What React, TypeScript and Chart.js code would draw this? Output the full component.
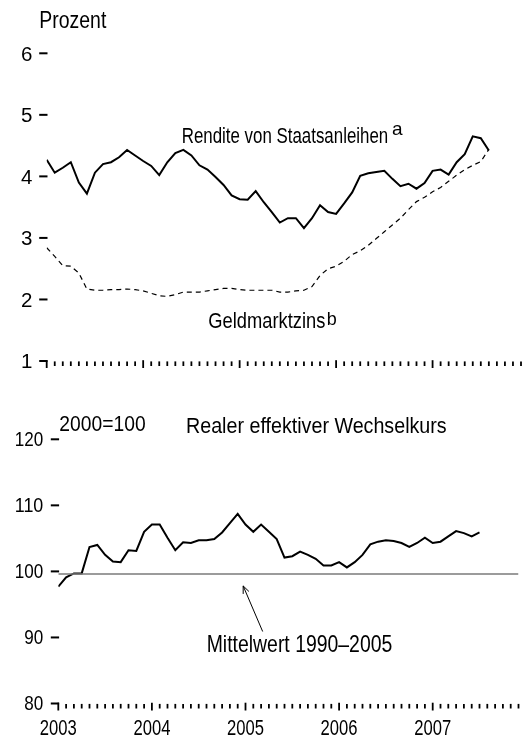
import React, { useEffect, useRef } from 'react';
import { Chart, registerables } from 'chart.js';

Chart.register(...registerables);

// Monthly data, index 0 = January 2003
const bondYield = [
  4.27, 4.06, 4.14, 4.23, 3.9, 3.72, 4.06, 4.2, 4.23, 4.31, 4.43, 4.34,
  4.25, 4.17, 4.02, 4.23, 4.38, 4.43, 4.34, 4.18, 4.11, 3.99, 3.86, 3.69,
  3.63, 3.62, 3.76, 3.58, 3.42, 3.25, 3.32, 3.32, 3.16, 3.32, 3.53, 3.42,
  3.39, 3.56, 3.74, 4.01, 4.05, 4.07, 4.09, 3.96, 3.84, 3.88, 3.8, 3.89,
  4.09, 4.11, 4.03, 4.23, 4.36, 4.65, 4.62, 4.42,
];
const moneyMarketRate = [
  2.84, 2.7, 2.55, 2.54, 2.43, 2.17, 2.15, 2.15, 2.16, 2.16, 2.17, 2.16,
  2.14, 2.1, 2.06, 2.05, 2.08, 2.12, 2.12, 2.12, 2.14, 2.16, 2.18, 2.18,
  2.16, 2.15, 2.15, 2.15, 2.15, 2.12, 2.12, 2.14, 2.15, 2.21, 2.39, 2.5,
  2.54, 2.62, 2.73, 2.79, 2.88, 2.99, 3.1, 3.21, 3.32, 3.46, 3.59, 3.66,
  3.75, 3.82, 3.92, 4.02, 4.11, 4.18, 4.24, 4.44,
];
const realExchangeRate = [
  97.7, 99.1, 99.7, 99.7, 103.7, 104.0, 102.5, 101.5, 101.4, 103.2, 103.1, 106.0,
  107.1, 107.1, 105.1, 103.2, 104.4, 104.3, 104.7, 104.7, 104.9, 105.9, 107.3, 108.7,
  107.1, 106.0, 107.1, 106.0, 104.9, 102.1, 102.3, 103.0, 102.5, 101.9, 100.9, 100.9,
  101.4, 100.6, 101.4, 102.5, 104.1, 104.5, 104.7, 104.6, 104.3, 103.7, 104.3, 105.1,
  104.3, 104.5, 105.3, 106.1, 105.8, 105.3, 105.9,
];
const meanLevel = 99.6; // Mittelwert 1990–2005
const yearLabels = ['2003', '2004', '2005', '2006', '2007'];
const monthCount = 60; // Jan 2003 .. Dec 2007
const topYTicks = [1, 2, 3, 4, 5, 6];
const bottomYTicks = [80, 90, 100, 110, 120];
// arrow annotation in data space: [month, value]
const arrowTip = [23.7, 97.8];
const arrowTail = [26.2, 90.9];

const FONT = '"Liberation Sans", Arial, sans-serif';

function text(ctx: CanvasRenderingContext2D, s: string, x: number, y: number, size: number, maxW?: number, align: CanvasTextAlign = 'left') {
  ctx.save();
  ctx.font = `${size}px ${FONT}`;
  ctx.fillStyle = '#000';
  ctx.textAlign = align;
  ctx.textBaseline = 'alphabetic';
  if (maxW) ctx.fillText(s, x, y, maxW);
  else ctx.fillText(s, x, y);
  ctx.restore();
}

function drawAxes(chart: any, yTicks: number[], opt: { labelSize: number; labelMaxW: (s: string) => number | undefined; baseOff: number; labelGap: number }) {
  const { ctx, chartArea, scales } = chart;
  const xs = scales.x;
  const ys = scales.y;
  const left = chartArea.left;
  const bottom = chartArea.bottom;
  ctx.save();
  ctx.strokeStyle = '#000';
  // x ticks (months)
  ctx.lineWidth = 1.8;
  for (let i = 0; i < monthCount; i++) {
    const px = xs.getPixelForValue(i);
    const major = i % 12 === 0;
    ctx.beginPath();
    ctx.moveTo(px, bottom + (major ? -0.8 : 0.4));
    ctx.lineTo(px, bottom + (major ? 7 : 5));
    ctx.stroke();
  }
  // y ticks (dashes)
  ctx.lineWidth = 2;
  yTicks.forEach((v) => {
    const py = ys.getPixelForValue(v);
    ctx.beginPath();
    ctx.moveTo(left - 7.5, py);
    ctx.lineTo(left + 0.8, py);
    ctx.stroke();
    const s = String(v);
    text(ctx, s, left - opt.labelGap, py + opt.baseOff, opt.labelSize, opt.labelMaxW(s), 'right');
  });
  ctx.restore();
}

const topDecor = {
  id: 'topDecor',
  afterDraw(chart: any) {
    const ctx = chart.ctx;
    drawAxes(chart, topYTicks, { labelSize: 20.5, labelMaxW: () => undefined, baseOff: 7.3, labelGap: 14.4 });
    text(ctx, 'Prozent', 39.3, 28.3, 23, 67);
    text(ctx, 'Rendite von Staatsanleihen', 181.7, 143.3, 22.5, 206.5);
    text(ctx, 'a', 392, 135, 19);
    text(ctx, 'Geldmarktzins', 208.3, 328.3, 22.5, 117);
    text(ctx, 'b', 326.7, 325, 18);
  },
};

const bottomDecor = {
  id: 'bottomDecor',
  afterDraw(chart: any) {
    const { ctx, scales } = chart;
    drawAxes(chart, bottomYTicks, { labelSize: 21, labelMaxW: (s) => (s.length === 3 ? 28.5 : 19), baseOff: 6.6, labelGap: 15 });
    yearLabels.forEach((lab, k) => {
      const px = scales.x.getPixelForValue(k * 12);
      text(ctx, lab, px, 355, 22, 37, 'center');
    });
    text(ctx, '2000=100', 59.3, 50.7, 22, 86.3);
    text(ctx, 'Realer effektiver Wechselkurs', 186, 52.7, 21.5, 260.7);
    text(ctx, 'Mittelwert 1990–2005', 206.7, 272.3, 24, 185.6);
    // arrow
    const tx = scales.x.getPixelForValue(arrowTip[0]);
    const ty = scales.y.getPixelForValue(arrowTip[1]);
    const sx = scales.x.getPixelForValue(arrowTail[0]);
    const sy = scales.y.getPixelForValue(arrowTail[1]);
    const ang = Math.atan2(ty - sy, tx - sx);
    ctx.save();
    ctx.strokeStyle = '#000';
    ctx.lineWidth = 1;
    ctx.beginPath();
    ctx.moveTo(sx, sy);
    ctx.lineTo(tx, ty);
    const hl = 8;
    const spread = 0.4;
    ctx.moveTo(tx - hl * Math.cos(ang - spread), ty - hl * Math.sin(ang - spread));
    ctx.lineTo(tx, ty);
    ctx.lineTo(tx - hl * Math.cos(ang + spread), ty - hl * Math.sin(ang + spread));
    ctx.stroke();
    ctx.restore();
  },
};

export default function App() {
  const topRef = useRef<HTMLCanvasElement>(null);
  const botRef = useRef<HTMLCanvasElement>(null);

  useEffect(() => {
    const common = {
      animation: false as const,
      responsive: false,
      maintainAspectRatio: false,
      events: [] as any[],
      plugins: { legend: { display: false }, tooltip: { enabled: false } },
    };
    const top = new Chart(topRef.current!, {
      type: 'line',
      data: {
        datasets: [
          {
            data: bondYield.map((y, i) => ({ x: i, y })),
            borderColor: '#000',
            borderWidth: 2,
            pointRadius: 0,
            tension: 0,
          },
          {
            data: moneyMarketRate.map((y, i) => ({ x: i, y })),
            borderColor: '#000',
            borderWidth: 1.2,
            borderDash: [5, 4],
            pointRadius: 0,
            tension: 0,
          },
        ],
      },
      options: {
        ...common,
        layout: { padding: { left: 46.7, right: 1, top: 53.3, bottom: 19 } },
        scales: {
          x: { type: 'linear', min: 0, max: monthCount - 1, display: false },
          y: { type: 'linear', min: 1, max: 6, display: false },
        },
      },
      plugins: [topDecor],
    });
    const bottom = new Chart(botRef.current!, {
      type: 'line',
      data: {
        datasets: [
          {
            data: [
              { x: 0, y: meanLevel },
              { x: monthCount - 1, y: meanLevel },
            ],
            borderColor: '#7a7a7a',
            borderWidth: 1.5,
            pointRadius: 0,
          },
          {
            data: realExchangeRate.map((y, i) => ({ x: i, y })),
            borderColor: '#000',
            borderWidth: 2,
            pointRadius: 0,
            tension: 0,
          },
        ],
      },
      options: {
        ...common,
        layout: { padding: { left: 58.3, right: 3.5, top: 59.3, bottom: 32.5 } },
        scales: {
          x: { type: 'linear', min: 0, max: monthCount - 1, display: false },
          y: { type: 'linear', min: 80, max: 120, display: false },
        },
      },
      plugins: [bottomDecor],
    });
    return () => {
      top.destroy();
      bottom.destroy();
    };
  }, []);

  return (
    <div style={{ position: 'absolute', left: 0, top: 0, width: 522, height: 736, background: '#fff' }}>
      <canvas ref={topRef} width={522} height={380} style={{ position: 'absolute', left: 0, top: 0, display: 'block' }} />
      <canvas ref={botRef} width={522} height={356} style={{ position: 'absolute', left: 0, top: 380, display: 'block' }} />
    </div>
  );
}
